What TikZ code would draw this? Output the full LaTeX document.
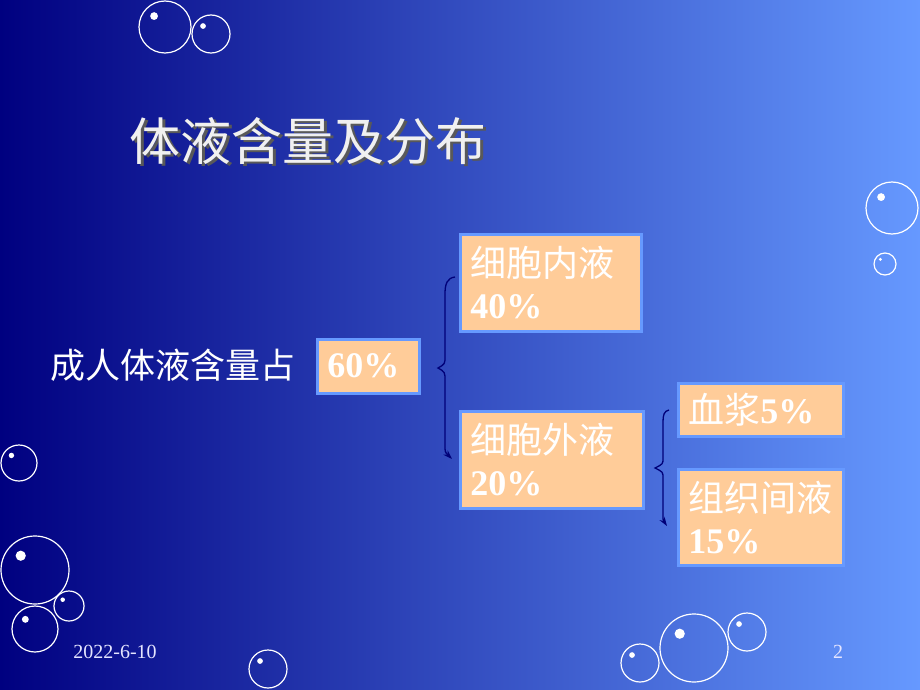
\documentclass[tikz,border=0pt]{standalone}
\usepackage{fontspec}
\setmainfont{Liberation Serif}
\newfontfamily\cjk{Noto Sans CJK SC}
\usetikzlibrary{arrows.meta,positioning}

\definecolor{bgleft}{RGB}{0,0,128}
\definecolor{bgright}{RGB}{102,153,255}
\definecolor{boxfill}{RGB}{255,204,153}
\definecolor{boxline}{RGB}{102,153,255}
\definecolor{bracecol}{RGB}{0,0,120}

\newcommand\embossed[1]{\rlap{\kern2.5pt\raisebox{-2.5pt}{\color{black!65}#1}}#1}

\begin{document}
\begin{tikzpicture}[x=1pt,y=-1pt,
  box/.style={draw=boxline,line width=2.5pt,fill=boxfill,anchor=north west,
    inner xsep=10pt,inner ysep=0pt,align=left,text=white,
    font=\fontsize{36}{42}\selectfont},
  brace/.style={draw=bracecol,line width=1.3pt,-{Stealth[length=9pt,width=6pt]}},
  bubble/.style={draw=white,line width=1.2pt},
  foot/.style={text=white!90!blue,font=\fontsize{20}{24}\selectfont}]
  \useasboundingbox (0,0) rectangle (920,690);
  \shade[left color=bgleft,right color=bgright] (0,0) rectangle (920,690);

  % bubbles
  \foreach \x/\y/\r in {165/27/26,211/34/19,892/208/26,885/264/11,19/463/18,
      35/570/34,69/606/15,35/629/23,268/669/19,640/663/19,694/648/34,747/632/19}{
    \draw[bubble] (\x,\y) circle (\r);
    \fill[white] (\x-0.42*\r,\y-0.42*\r) circle (0.15*\r);
  }

  % title
  \node (title) [text=white!94!black,font=\cjk\fontsize{51}{56}\selectfont] at (308,142) {\embossed{体液含量及分布}};

  \node (adult) [text=white,font=\cjk\fontsize{35}{40}\selectfont] at (173,365) {成人体液含量占};
  \node (pct) [box,text width=82pt,minimum height=54pt] at (316,338) {\textbf{60\%}};
  \node (icf) [box,text width=161pt,minimum height=97pt] at (459,233) {{\cjk 细胞内液}\\\textbf{40\%}};
  \node (ecf) [box,text width=163pt,minimum height=97pt] at (459,410) {{\cjk 细胞外液}\\\textbf{20\%}};
  \node (plasma) [box,text width=145pt,minimum height=53pt] at (677,382) {{\cjk 血浆}\textbf{5\%}};
  \node (isf) [box,text width=145pt,minimum height=96pt] at (677,468) {{\cjk 组织间液}\\\textbf{15\%}};

  % braces
  \coordinate (b1) at (455,277);
  \coordinate (b2) at (669,410);
  \draw[brace] (b1) .. controls (447,278) and (445,284) .. (445,294) -- (445,356)
    .. controls (445,364) .. (438,368) .. controls (445,372) .. (445,381) -- (445,445)
    .. controls (445,452) .. (452,459);
  \draw[brace] (b2) .. controls (664,411) and (663,415) .. (663,422) -- (663,458)
    .. controls (663,464) .. (655,468) .. controls (663,472) .. (663,478) -- (663,514)
    .. controls (663,520) .. (667,526);

  \node (date) [foot] at (115,652) {2022-6-10};
  \node (page) [foot] at (838,652) {2};
\end{tikzpicture}
\end{document}
